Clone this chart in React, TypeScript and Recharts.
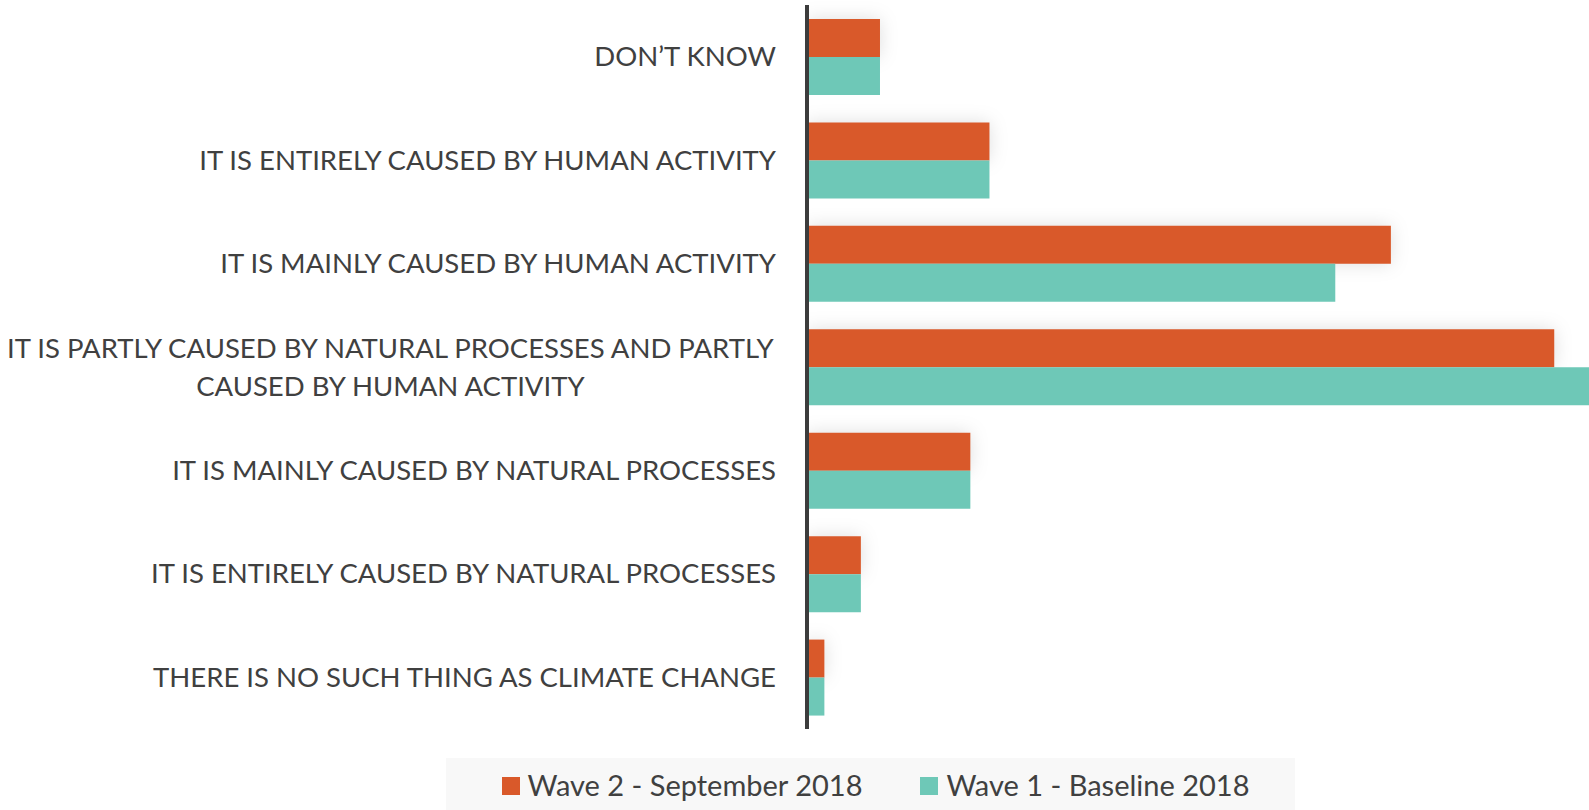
import React from "react"
import { BarChart, Bar, XAxis, YAxis, Rectangle } from "recharts"

// answer categories, top to bottom ("\n" = line break in the label)
const categories = [
  "DON’T KNOW",
  "IT IS ENTIRELY CAUSED BY HUMAN ACTIVITY",
  "IT IS MAINLY CAUSED BY HUMAN ACTIVITY",
  "IT IS PARTLY CAUSED BY NATURAL PROCESSES AND PARTLY\nCAUSED BY HUMAN ACTIVITY",
  "IT IS MAINLY CAUSED BY NATURAL PROCESSES",
  "IT IS ENTIRELY CAUSED BY NATURAL PROCESSES",
  "THERE IS NO SUCH THING AS CLIMATE CHANGE",
]

// share of respondents (%)
const wave2 = [4.2, 10.5, 33.6, 43.0, 9.4, 3.1, 1.0]
const wave1 = [4.2, 10.5, 30.4, 45.0, 9.4, 3.1, 1.0]

const seriesNames = ["Wave 2 - September 2018", "Wave 1 - Baseline 2018"]
const seriesColors = ["#D9592A", "#6EC8B7"]

const FONT = "Lato, 'Open Sans', sans-serif"
const TEXT = "#404040"
const LABEL_SIZE = 27.5

const data = categories.map((label, i) => ({
  label,
  wave2: wave2[i],
  wave1: wave1[i],
}))

let ctx: CanvasRenderingContext2D | null = null
const measure = (s: string, size: number) => {
  if (!ctx) ctx = document.createElement("canvas").getContext("2d")
  if (!ctx) return s.length * size * 0.5
  ctx.font = `${size}px Lato`
  return ctx.measureText(s).width
}

const CategoryTick = (props: any) => {
  const { x, y, payload } = props
  const lines: string[] = String(payload.value).split("\n")
  if (lines.length === 1) {
    return (
      <text x={x} y={y} dy="0.35em" textAnchor="end" fill={TEXT} fontSize={LABEL_SIZE} fontFamily={FONT}>
        {lines[0]}
      </text>
    )
  }
  // multi-line labels are centred on each other, block right-aligned
  const maxW = Math.max(...lines.map((l) => measure(l, LABEL_SIZE)))
  const cx = x - maxW / 2
  const step = 38
  const top = y - ((lines.length - 1) * step) / 2
  return (
    <text textAnchor="middle" fill={TEXT} fontSize={LABEL_SIZE} fontFamily={FONT}>
      {lines.map((l, i) => (
        <tspan key={i} x={cx} y={top + i * step} dy="0.35em">
          {l}
        </tspan>
      ))}
    </text>
  )
}

const ShadowBar = (props: any) => (
  <Rectangle {...props} style={{ filter: "drop-shadow(0px 0px 9px rgba(0,0,0,0.13))" }} />
)

export default function App() {
  return (
    <div style={{ position: "absolute", left: 0, top: 0, width: 1589, height: 810, background: "#fff" }}>
      <BarChart
        width={1589}
        height={810}
        data={data}
        layout="vertical"
        margin={{ top: 5, right: 0, left: 0, bottom: 81 }}
        barGap={0}
      >
        <XAxis type="number" domain={[0, 45]} hide allowDataOverflow />
        <YAxis
          type="category"
          dataKey="label"
          width={807}
          axisLine={{ stroke: "#3c3c3c", strokeWidth: 4 }}
          tickLine={false}
          tickMargin={25}
          tick={<CategoryTick />}
          interval={0}
        />
        <Bar dataKey="wave2" name={seriesNames[0]} fill={seriesColors[0]} barSize={38} shape={<ShadowBar />} isAnimationActive={false} />
        <Bar dataKey="wave1" name={seriesNames[1]} fill={seriesColors[1]} barSize={38} isAnimationActive={false} />
      </BarChart>
      <div
        style={{
          position: "absolute",
          left: 446,
          top: 758,
          width: 849,
          height: 52,
          background: "#f8f8f8",
          display: "flex",
          alignItems: "center",
          justifyContent: "center",
          gap: 58,
          fontFamily: FONT,
          fontSize: 29,
          color: TEXT,
          paddingLeft: 10,
          boxSizing: "border-box",
        }}
      >
        {seriesNames.map((name, i) => (
          <div key={name} style={{ display: "flex", alignItems: "center", gap: 8 }}>
            <span style={{ width: 18, height: 18, background: seriesColors[i], display: "inline-block", marginTop: 4 }} />
            <span>{name}</span>
          </div>
        ))}
      </div>
    </div>
  )
}
